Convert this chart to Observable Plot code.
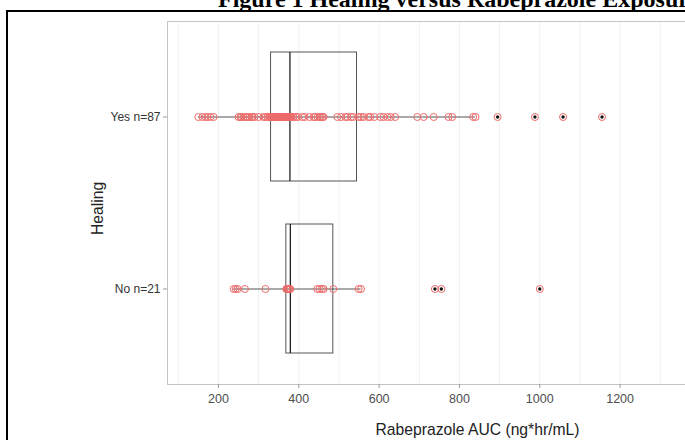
<!DOCTYPE html>
<html><head><meta charset="utf-8">
<script src="https://cdn.jsdelivr.net/npm/d3@7"></script>
<script src="https://cdn.jsdelivr.net/npm/@observablehq/plot@0.6"></script>
<style>
body{margin:0;background:#fff;overflow:hidden;}
#wrap{position:relative;width:685px;height:440px;overflow:hidden;background:#fff;}
#title{position:absolute;left:218px;top:-14px;font:bold 24px "Liberation Serif","Times New Roman",serif;white-space:nowrap;color:#000;}
#frame{position:absolute;left:6px;top:10px;width:900px;height:900px;border:2px solid #000;}
#chart{position:absolute;left:0;top:0;}
</style></head><body>
<div id="wrap"><div id="title">Figure 1 Healing versus Rabeprazole Exposure</div><div id="frame"></div><div id="chart"></div></div>
<script>
// Categories
const groups = ["Yes n=87", "No n=21"];
// Individual AUC values (ng*hr/mL)
const yesAUC = [150,160,168,173,180,188,250,255,257,262,268,272,277,282,285,290,300,312,317,322,326,330,
  333,335,337,340,342,344,346,348,350,352,355,357,360,362,364,367,369,370,372,374,376,
  378,
  379,382,387,392,398,409,415,427,437,440,447,452,455,459,462,496,505,516,521,530,536,
  549,555,561,573,578,588,603,611,621,629,640,695,711,736,773,782,834,840,895,988,1058,1155];
const noAUC = [238,243,248,266,317,369,370,372,375,377,379,446,452,458,462,486,549,555,739,755,1000];
// Box summary per group (Yes, No)
const q1 = [331, 369];
const median = [378, 379];
const q3 = [545, 486];
const whiskerLo = [150, 238];
const whiskerHi = [840, 555];
// Axis ticks
const xTicks = [200, 400, 600, 800, 1000, 1200];
const xGrid = [100, 200, 300, 400, 500, 600, 700, 800, 900, 1000, 1100, 1200, 1300];

const points = [
  ...yesAUC.map(v => ({g: groups[0], v})),
  ...noAUC.map(v => ({g: groups[1], v}))
];
const boxes = groups.map((g, i) => ({g, q1: q1[i], med: median[i], q3: q3[i], lo: whiskerLo[i], hi: whiskerHi[i]}));
const outliers = points.filter(d => d.v > boxes.find(b => b.g === d.g).hi);

const chart = Plot.plot({
  width: 685, height: 440,
  marginLeft: 167, marginRight: 0, marginTop: 21, marginBottom: 56,
  style: {fontFamily: "'Liberation Sans', Arial, sans-serif", background: "transparent"},
  x: {domain: [73.2, 1362.8], label: null},
  y: {domain: groups, type: "band", paddingInner: 0.25, paddingOuter: 0.179, label: null},
  marks: [
    Plot.ruleX(xGrid, {stroke: "#f1f1f1", strokeWidth: 1}),
    Plot.frame({stroke: "#c4c4c4"}),
    Plot.ruleY(boxes, {y: "g", x1: "lo", x2: "hi", stroke: "#555", strokeWidth: 1}),
    Plot.barX(boxes, {y: "g", x1: "q1", x2: "q3", fill: "none", stroke: "#555", strokeWidth: 1}),
    Plot.tickX(boxes, {y: "g", x: "med", stroke: "#111", strokeWidth: 1.2}),
    Plot.dot(points, {x: "v", y: "g", r: 3.5, stroke: "#ee6a6a", strokeWidth: 1, fill: "none"}),
    Plot.dot(outliers, {x: "v", y: "g", r: 1.7, fill: "#111"}),
    Plot.axisX({ticks: xTicks, tickFormat: d3.format("d"), tickSize: 4, tickPadding: 6, stroke: "#999", fill: "#4d4d4d", fontSize: 12.5, label: null}),
    Plot.axisY({tickSize: 4, tickPadding: 3, stroke: "#999", fill: "#333", fontSize: 12, label: null}),
    Plot.text(["Rabeprazole AUC (ng*hr/mL)"], {frameAnchor: "bottom", dx: 51, dy: 45, fontSize: 15.7, fill: "#222", lineAnchor: "middle"}),
    Plot.text(["Healing"], {frameAnchor: "left", dx: -70, dy: 32, rotate: -90, fontSize: 15.7, fill: "#222", lineAnchor: "middle"})
  ]
});
document.getElementById("chart").appendChild(chart);
</script>
</body></html>
